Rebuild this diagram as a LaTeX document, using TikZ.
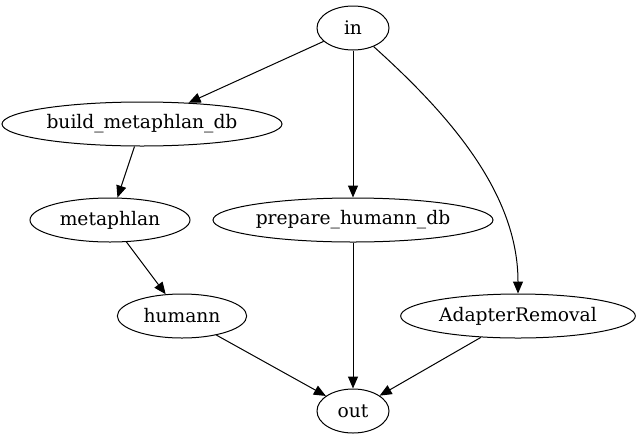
\documentclass[tikz,border=0pt]{standalone}
\usepackage{fontspec}
\setmainfont{DejaVu Serif}
\usetikzlibrary{arrows.meta, shapes.geometric}

\tikzset{
    task/.style={ellipse, draw, line width=0.75pt, minimum height=33pt, inner sep=0pt, font=\fontsize{14}{16}\selectfont},
    flow/.style={-{Triangle[length=9pt, width=7.5pt]}, line width=0.75pt}
}

\begin{document}
\begin{tikzpicture}[x=0.75pt, y=-0.75pt]
        \useasboundingbox (0,0) rectangle (641,443);

        % Draw the tasks
        \node[task, minimum width=54pt]  (in)  at (353,28)  {in};
        \node[task, minimum width=210pt] (bmd) at (142,124) {build\_metaphlan\_db};
        \node[task, minimum width=120pt] (mp)  at (110,220) {metaphlan};
        \node[task, minimum width=210pt] (phd) at (353,220) {prepare\_humann\_db};
        \node[task, minimum width=97pt]  (hu)  at (182,316) {humann};
        \node[task, minimum width=176pt] (ar)  at (518,316) {AdapterRemoval};
        \node[task, minimum width=54pt]  (out) at (353,411) {out};

        % Connect the tasks with arrows
        \draw[flow]
            (in) edge (bmd)
            (in) edge (phd)
            (in) edge[out=-42, in=90, looseness=0.9] (ar)
            (bmd) edge (mp)
            (mp) edge (hu)
            (hu) edge (out)
            (phd) edge (out)
            (ar) edge (out);
    \end{tikzpicture}
\end{document}
